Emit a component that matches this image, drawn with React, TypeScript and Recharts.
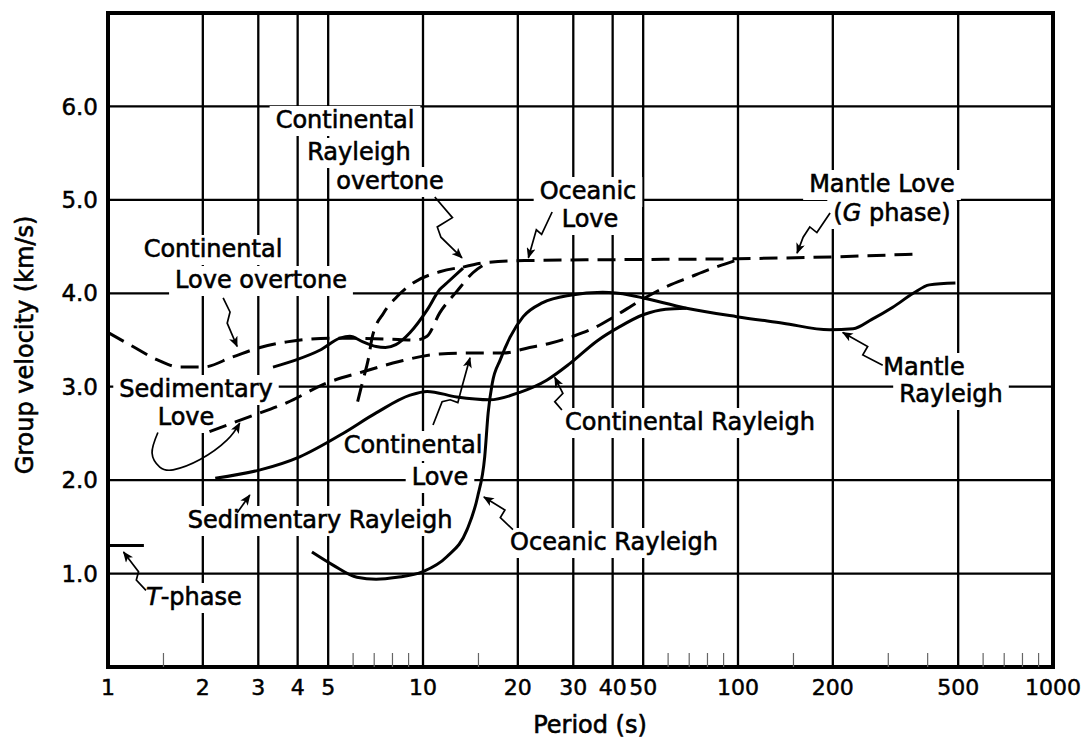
import React from 'react';
import {
  LineChart,
  Line,
  XAxis,
  YAxis,
  CartesianGrid,
  ReferenceLine,
  ReferenceArea,
  Customized,
} from 'recharts';

const FONT = '"DejaVu Sans", "Liberation Sans", sans-serif';
const LABEL_SIZE = 24;
const TEXT_STROKE = 0.6;

// Axes
const periodTicks = [1, 2, 3, 4, 5, 10, 20, 30, 40, 50, 100, 200, 500, 1000];
const periodMinorTicks = [1.5, 6, 7, 8, 9, 15, 60, 70, 80, 90, 150, 300, 400, 600, 700, 800, 900];
const velocityTicks = [1, 2, 3, 4, 5, 6];

// T-phase
const tPhasePeriod = [1, 1.3];
const tPhaseVelocity = [1.3, 1.3];

// Oceanic Rayleigh, continuing as Mantle Rayleigh (solid)
const oceanicRayleighPeriod = [4.44, 5.18, 6.17, 7.1, 8.27, 10, 11.9, 13.8, 14.9, 15.7, 16.1, 16.6, 17.6, 18.9, 20.8, 24, 29.3, 37.2, 45.5, 50, 68.6, 99, 139, 195, 232, 266, 310, 360, 405, 490];
const oceanicRayleighVelocity = [1.23, 1.09, 0.96, 0.94, 0.96, 1.02, 1.18, 1.47, 1.82, 2.25, 2.72, 3.04, 3.29, 3.53, 3.75, 3.9, 3.98, 4.01, 3.98, 3.95, 3.84, 3.75, 3.68, 3.61, 3.62, 3.72, 3.85, 4.0, 4.09, 4.11];

// Sedimentary / Continental Rayleigh (solid)
const continentalRayleighPeriod = [2.19, 3.04, 4.06, 5.57, 7.1, 9.1, 10.3, 12.8, 16.3, 20.3, 24.7, 29.3, 35.7, 42, 50, 59, 68.6];
const continentalRayleighVelocity = [2.02, 2.11, 2.25, 2.5, 2.72, 2.91, 2.95, 2.89, 2.86, 2.94, 3.07, 3.25, 3.49, 3.64, 3.77, 3.83, 3.84];

// Continental Rayleigh overtone (solid)
const rayleighOvertonePeriod = [3.34, 3.98, 4.7, 5.45, 5.86, 6.45, 7.1, 7.6, 8.2, 9.1, 10.3, 11.3, 11.9, 13.4];
const rayleighOvertoneVelocity = [3.21, 3.29, 3.39, 3.52, 3.54, 3.48, 3.43, 3.42, 3.45, 3.58, 3.82, 4.04, 4.11, 4.27];

// Continental Love overtone (dashed)
const loveOvertonePeriod = [1, 1.2, 1.43, 1.69, 2, 2.49, 3.04, 3.7, 5.2, 7.7, 9.5, 10.3, 11.3, 12.8, 14.4, 16.3];
const loveOvertoneVelocity = [3.58, 3.43, 3.29, 3.21, 3.21, 3.32, 3.42, 3.48, 3.52, 3.51, 3.5, 3.54, 3.79, 4.02, 4.22, 4.34];

// Steep overtone branch (dashed)
const overtoneBranchPeriod = [6.2, 6.45, 6.7, 6.9, 7.5, 8.25, 9.3, 11.3, 13.4];
const overtoneBranchVelocity = [2.84, 3.07, 3.29, 3.53, 3.79, 3.96, 4.11, 4.23, 4.28];

// Oceanic Love into Mantle Love / G phase (dashed)
const mantleLovePeriod = [13.4, 16, 21, 40, 100, 200, 370];
const mantleLoveVelocity = [4.28, 4.33, 4.35, 4.36, 4.37, 4.39, 4.42];

// Sedimentary / Continental Love (dashed)
const continentalLovePeriod = [2.1, 2.82, 3.7, 4.95, 6.45, 8.4, 11.3, 14.4, 17.9, 21.8, 25, 30, 35, 40, 50, 60, 70, 85, 100];
const continentalLoveVelocity = [2.52, 2.68, 2.83, 3.04, 3.16, 3.27, 3.35, 3.36, 3.36, 3.42, 3.46, 3.54, 3.63, 3.74, 3.94, 4.08, 4.17, 4.28, 4.36];

// Pointer arrows from the labels to their curves (period, velocity)
const pointerCRO = { p: [10.9, 12.4, 11.1, 11.4, 13.3], v: [5.03, 4.81, 4.71, 4.6, 4.38] };
const pointerOL = { p: [25.7, 23.8, 22.9, 21.6], v: [4.87, 4.63, 4.68, 4.38] };
const pointerML = { p: [196, 178, 169, 161, 154], v: [4.86, 4.65, 4.71, 4.6, 4.43] };
const pointerCLO = { p: [2.32, 2.44, 2.39, 2.57], v: [3.95, 3.8, 3.68, 3.43] };
const pointerSL = { p: [1.44, 1.38, 1.46, 1.61, 1.96, 2.39, 2.62], v: [2.51, 2.29, 2.14, 2.11, 2.22, 2.43, 2.61] };
const pointerCL = { p: [10.76, 11.5, 12.2, 12.9, 13.3, 14.1], v: [2.59, 2.84, 2.86, 2.83, 3.0, 3.31] };
const pointerCR = { p: [27.6, 26.2, 27.8, 26.2], v: [2.75, 2.84, 2.93, 3.1] };
const pointerSR = { p: [2.57, 2.82], v: [1.65, 1.84] };
const pointerOR = { p: [19.3, 17.6, 18.2, 15.6], v: [1.47, 1.6, 1.68, 1.82] };
const pointerMR = { p: [288, 249, 258, 215], v: [3.23, 3.34, 3.43, 3.58] };
const pointerT = { p: [1.32, 1.23, 1.25, 1.12], v: [0.82, 0.93, 1.02, 1.23] };

const toRows = (p: number[], v: number[]) => p.map((x, i) => ({ x, v: v[i] }));

type LabelLine = { text: React.ReactNode; plain: string; x: number; y: number; anchor?: 'start' | 'middle' };
const curveLabels: LabelLine[] = [
  { text: 'Continental', plain: 'Continental', x: 345, y: 128 },
  { text: 'Rayleigh', plain: 'Rayleigh', x: 359, y: 160 },
  { text: 'overtone', plain: 'overtone', x: 390, y: 189 },
  { text: 'Oceanic', plain: 'Oceanic', x: 588, y: 199 },
  { text: 'Love', plain: 'Love', x: 590, y: 227 },
  { text: 'Mantle Love', plain: 'Mantle Love', x: 882, y: 192 },
  {
    text: (
      <>
        (<tspan fontStyle="italic">G</tspan> phase)
      </>
    ),
    plain: '(G phase)',
    x: 892,
    y: 221,
  },
  { text: 'Continental', plain: 'Continental', x: 213, y: 257 },
  { text: 'Love overtone', plain: 'Love overtone', x: 261, y: 288 },
  { text: 'Sedimentary', plain: 'Sedimentary', x: 196, y: 397 },
  { text: 'Love', plain: 'Love', x: 186, y: 425 },
  { text: 'Continental', plain: 'Continental', x: 413, y: 453 },
  { text: 'Love', plain: 'Love', x: 440, y: 485 },
  { text: 'Continental Rayleigh', plain: 'Continental Rayleigh', x: 690, y: 430 },
  { text: 'Sedimentary Rayleigh', plain: 'Sedimentary Rayleigh', x: 320, y: 528 },
  { text: 'Oceanic Rayleigh', plain: 'Oceanic Rayleigh', x: 614, y: 550 },
  { text: 'Mantle', plain: 'Mantle', x: 924, y: 375 },
  { text: 'Rayleigh', plain: 'Rayleigh', x: 951, y: 402 },
  {
    text: (
      <>
        <tspan fontStyle="italic">T</tspan>-phase
      </>
    ),
    plain: 'T-phase',
    x: 146,
    y: 605,
    anchor: 'start',
  },
];

let measureCtx: CanvasRenderingContext2D | null = null;
function textWidth(s: string): number {
  if (!measureCtx) {
    const c = document.createElement('canvas');
    measureCtx = c.getContext('2d');
  }
  if (!measureCtx) return s.length * LABEL_SIZE * 0.6;
  measureCtx.font = `${LABEL_SIZE}px ${FONT}`;
  return measureCtx.measureText(s).width;
}

// White boxes that interrupt the grid behind each label
function LabelBoxes() {
  return (
    <g>
      {curveLabels.map((l, i) => {
        const w = textWidth(l.plain);
        const x0 = l.anchor === 'start' ? l.x : l.x - w / 2;
        return <rect key={i} x={x0 - 6} y={l.y - 22} width={w + 12} height={30} fill="#fff" />;
      })}
    </g>
  );
}

function LabelTexts() {
  return (
    <g fontFamily={FONT} fontSize={LABEL_SIZE} fill="#000">
      {curveLabels.map((l, i) => (
        <text key={i} x={l.x} y={l.y} textAnchor={l.anchor ?? 'middle'} stroke="#000" strokeWidth={TEXT_STROKE}>
          {l.text}
        </text>
      ))}
      <text x={590} y={733} textAnchor="middle" stroke="#000" strokeWidth={TEXT_STROKE}>
        Period (s)
      </text>
      <text
        x={33}
        y={345}
        textAnchor="middle"
        transform="rotate(-90 33 345)"
        stroke="#000"
        strokeWidth={TEXT_STROKE}
      >
        Group velocity (km/s)
      </text>
    </g>
  );
}

const curveProps = {
  type: 'monotone' as const,
  dataKey: 'v',
  stroke: '#000',
  strokeWidth: 3,
  dot: false,
  activeDot: false,
  isAnimationActive: false,
};

const pointerProps = {
  type: 'linear' as const,
  dataKey: 'v',
  stroke: '#000',
  strokeWidth: 1.7,
  dot: false,
  activeDot: false,
  isAnimationActive: false,
  markerEnd: 'url(#pointerTip)',
};

const DASH = '18 9';
const tickStyle = { fill: '#000', fontSize: 22, fontFamily: FONT, stroke: '#000', strokeWidth: 0.5 };

export default function App() {
  const pointers = [pointerCRO, pointerOL, pointerML, pointerCLO, pointerCL, pointerCR, pointerSR, pointerOR, pointerMR, pointerT];
  return (
    <div style={{ position: 'absolute', left: 0, top: 0, width: 1092, height: 738, background: '#fff' }}>
      <svg width={0} height={0} style={{ position: 'absolute' }}>
        <defs>
          <marker
            id="pointerTip"
            viewBox="0 0 12 10"
            refX={11}
            refY={5}
            markerWidth={12}
            markerHeight={9}
            markerUnits="userSpaceOnUse"
            orient="auto"
          >
            <path d="M0,0 L12,5 L0,10 L3,5 z" fill="#000" />
          </marker>
        </defs>
      </svg>
      <LineChart width={1092} height={738} margin={{ top: 13, right: 39, bottom: 0, left: 0 }}>
        <CartesianGrid stroke="#000" strokeWidth={2.3} />
        <XAxis
          dataKey="x"
          type="number"
          scale="log"
          domain={[1, 1000]}
          ticks={periodTicks}
          interval={0}
          allowDataOverflow
          height={71}
          tickSize={0}
          tickMargin={12}
          axisLine={false}
          tickLine={false}
          tick={tickStyle}
        />
        <YAxis
          type="number"
          domain={[0, 7]}
          ticks={velocityTicks}
          interval={0}
          width={108}
          tickSize={0}
          tickMargin={10}
          axisLine={false}
          tickLine={false}
          tickFormatter={(v: number) => v.toFixed(1)}
          tick={{ ...tickStyle, fontSize: 23 }}
        />
        {periodMinorTicks.map((p) => (
          <ReferenceLine
            key={p}
            segment={[
              { x: p, y: 0 },
              { x: p, y: 0.15 },
            ]}
            stroke="#666"
            strokeWidth={1.2}
          />
        ))}
        <Customized component={LabelBoxes} />
        <Line data={toRows(tPhasePeriod, tPhaseVelocity)} {...curveProps} type="linear" />
        <Line data={toRows(oceanicRayleighPeriod, oceanicRayleighVelocity)} {...curveProps} />
        <Line data={toRows(continentalRayleighPeriod, continentalRayleighVelocity)} {...curveProps} />
        <Line data={toRows(rayleighOvertonePeriod, rayleighOvertoneVelocity)} {...curveProps} />
        <Line data={toRows(loveOvertonePeriod, loveOvertoneVelocity)} {...curveProps} strokeDasharray={DASH} />
        <Line data={toRows(overtoneBranchPeriod, overtoneBranchVelocity)} {...curveProps} strokeDasharray={DASH} />
        <Line data={toRows(mantleLovePeriod, mantleLoveVelocity)} {...curveProps} strokeDasharray={DASH} />
        <Line data={toRows(continentalLovePeriod, continentalLoveVelocity)} {...curveProps} strokeDasharray={DASH} />
        {pointers.map((pt, i) => (
          <Line key={`ptr${i}`} data={toRows(pt.p, pt.v)} {...pointerProps} />
        ))}
        <Line data={toRows(pointerSL.p, pointerSL.v)} {...pointerProps} type="natural" />
        <ReferenceArea x1={1} x2={1000} y1={0} y2={7} fill="none" stroke="#000" strokeWidth={4} ifOverflow="visible" />
        <Customized component={LabelTexts} />
      </LineChart>
    </div>
  );
}
